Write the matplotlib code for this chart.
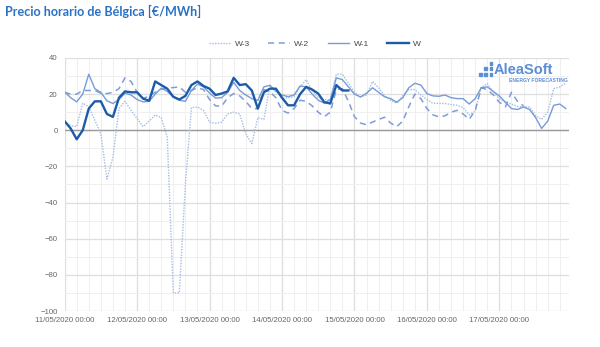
import numpy as np
import matplotlib
matplotlib.use("Agg")
import matplotlib.pyplot as plt
from matplotlib.patches import Rectangle

# Hourly price, Belgium (EUR/MWh), sampled every 2 hours from 11/05/2020 00:00
step_h = 2
day_labels = ["11/05/2020 00:00", "12/05/2020 00:00", "13/05/2020 00:00",
              "14/05/2020 00:00", "15/05/2020 00:00", "16/05/2020 00:00",
              "17/05/2020 00:00"]

w3 = [4.6, 2.5, 2, 15, 13, 5.5, -2, -27, -15, 12, 16, 11, 6.5, 2, 5, 8.5, 7, -4,
      -90, -90, -30, 12.5, 12.9, 11, 4.5, 3.8, 4.5, 9, 10, 9, -2, -7.4, 7, 6,
      24.5, 22, 17.5, 18, 18.5, 24, 28, 22, 18, 17, 16.6, 31, 31, 26, 21, 18.5,
      19.5, 27, 23.5, 19, 16.5, 15, 19, 22.5, 22.5, 19.5, 17, 15, 14.8, 14.8,
      14.2, 13.8, 12.5, 8.5, 10.5, 23.5, 25.8, 21, 17.5, 15.5, 14.5, 13.2, 12.9,
      12.9, 8, 6, 10, 23, 24, 26]
w2 = [21, 20, 20, 22, 22, 22, 20.5, 20.3, 21, 23, 29, 27, 21, 17.5, 19, 21, 22.6,
      23.4, 23.6, 24, 21, 22, 23.5, 22.5, 17, 13.5, 13.3, 18, 20.3, 19, 16, 12,
      12, 22.5, 21.2, 18, 11, 9.5, 12, 16.6, 16, 13.5, 10, 7.5, 10, 22.5, 23, 16,
      7.5, 4, 3, 4.5, 6, 7.2, 4, 2, 5, 13, 20, 17.5, 12, 8.5, 7.4, 8, 10, 11, 9,
      6, 11, 23.5, 22.5, 19.5, 15.5, 13, 21, 16, 13.5]
w1 = [21.2, 18, 15.7, 20, 31, 23, 21, 16.3, 14.8, 17, 20.5, 19.5, 17, 15.7, 16,
      20, 23.3, 21.5, 18.5, 16.6, 16, 22, 25.5, 24, 20.6, 17.8, 18, 21, 26.5, 22,
      19.5, 17.5, 16.5, 24, 24.9, 21.5, 19.5, 18.6, 19.5, 24.5, 24, 20, 16.6, 15,
      17, 29, 28, 24, 20, 18.4, 20.5, 23.5, 21, 18.5, 17.5, 15.5, 18, 23.5, 26,
      25, 20.3, 19, 18.8, 19.5, 18, 17.5, 17.5, 14.5, 17.5, 23.5, 24, 21.5, 19,
      15.5, 12, 11.5, 12.9, 11.5, 7, 1, 5, 13.8, 14.5, 12]
w0 = [5, 1, -5, 0, 12, 16, 16, 9, 7.4, 18, 21.5, 21, 21, 17.5, 16.3, 27, 25, 23,
      18.5, 17, 19, 25, 27, 24.5, 23, 19.5, 20.3, 21.5, 29, 25, 25.5, 22, 12, 21,
      23, 23, 18, 13.8, 13.8, 20, 24, 22.5, 20.3, 15.5, 14.8, 25, 22, 22]

plt.rcParams['font.family'] = ['Liberation Sans', 'DejaVu Sans']

fig = plt.figure(figsize=(6, 3.47), dpi=100)
ax = fig.add_axes([0.1077, 0.1037, 0.8403, 0.7293])

def hours(vals):
    return np.arange(len(vals)) * step_h

ax.plot(hours(w3), w3, color='#a3bbe4', lw=1.0, ls=(0, (1, 1)), label='W-3')
ax.plot(hours(w2), w2, color='#7b9ed8', lw=1.1, ls=(0, (4, 3)), label='W-2')
ax.plot(hours(w1), w1, color='#769cd6', lw=1.0, label='W-1')
ax.plot(hours(w0), w0, color='#1c5ba8', lw=1.7, label='W')

ax.set_xlim(0, 167)
ax.set_ylim(-100, 40)
ax.set_yticks(np.arange(-100, 41, 20))
ax.set_yticks(np.arange(-100, 41, 10), minor=True)
ax.set_xticks(np.arange(len(day_labels)) * 24)
ax.set_xticklabels(day_labels)
ax.set_xticks(np.arange(0, 168, 4), minor=True)

ax.grid(which='major', color='#dedede', lw=0.9)
ax.grid(which='minor', color='#efefef', lw=0.7)
ax.axhline(0, color='#9a9a9a', lw=1.0, zorder=1.5)
ax.set_axisbelow(True)
for s in ax.spines.values():
    s.set_visible(False)
ax.tick_params(which='both', length=0, colors='#666666', labelsize=5.6)
ax.tick_params(axis='x', pad=4)
ax.tick_params(axis='y', pad=5)

fig.text(0.008, 0.968, "Precio horario de Bélgica [€/MWh]", color='#2a72c6',
         fontsize=9.1, fontweight='bold', family=['Lato', 'DejaVu Sans'],
         va='center', ha='left')

leg = fig.legend(loc='center', bbox_to_anchor=(0.525, 0.874), ncol=4,
                 frameon=False, fontsize=6, handlelength=2.6, columnspacing=2.2,
                 handletextpad=0.5)
for t in leg.get_texts():
    t.set_color('#444444')

# logo
logo_blue = '#5b8ed6'
fig.text(0.822, 0.797, "AleaSoft", color=logo_blue, fontsize=10.5,
         fontweight='bold', ha='left', va='center')
fig.text(0.946, 0.768, "ENERGY FORECASTING", color=logo_blue, fontsize=3.6,
         fontweight='bold', ha='right', va='center')
sq = 0.0045
for cx, cy in [(0.798, 0.782), (0.807, 0.782), (0.807, 0.798),
               (0.816, 0.782), (0.816, 0.798), (0.816, 0.814)]:
    fig.patches.append(Rectangle((cx, cy), sq, sq * 600 / 347,
                                 transform=fig.transFigure, color=logo_blue))

fig.savefig("out.png", dpi=100)
